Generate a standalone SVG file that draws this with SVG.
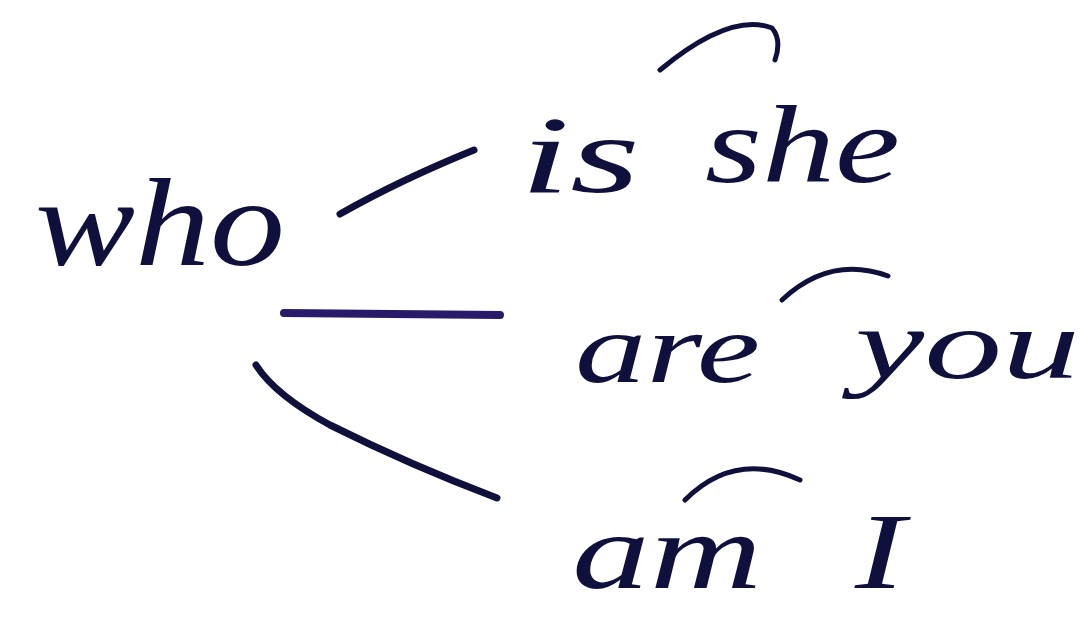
<svg xmlns="http://www.w3.org/2000/svg" width="1086" height="617" viewBox="0 0 1086 617">
<style>
.w{font-family:"Liberation Serif","DejaVu Serif",serif;font-style:italic;fill:#10103c;}
.c{fill:none;stroke:#10103c;stroke-width:7;stroke-linecap:round;}
.arc{fill:none;stroke:#10103c;stroke-width:5;stroke-linecap:round;}
</style>
<rect width="1086" height="617" fill="#ffffff"/>
<g id="node-who"><text class="w" x="35" y="265" font-size="125" textLength="250" lengthAdjust="spacingAndGlyphs">who</text></g>
<g id="node-is-she">
<text class="w" x="520" y="192" font-size="110" textLength="120" lengthAdjust="spacingAndGlyphs">is</text>
<text class="w" x="705" y="182" font-size="110" textLength="195" lengthAdjust="spacingAndGlyphs">she</text>
<path class="arc" d="M660 70 Q730 12 772 28 Q782 40 775 60"/>
</g>
<g id="node-are-you">
<text class="w" x="575" y="382" font-size="100" textLength="185" lengthAdjust="spacingAndGlyphs">are</text>
<text class="w" x="855" y="378" font-size="100" textLength="225" lengthAdjust="spacingAndGlyphs">you</text>
<path class="arc" d="M782 300 Q830 255 888 276"/>
</g>
<g id="node-am-i">
<text class="w" x="572" y="588" font-size="108" textLength="190" lengthAdjust="spacingAndGlyphs">am</text>
<text class="w" x="855" y="588" font-size="108" textLength="50" lengthAdjust="spacingAndGlyphs">I</text>
<path class="arc" d="M685 500 Q735 450 800 480"/>
</g>
<g id="connectors">
<path class="c" d="M340 214 Q400 180 474 150"/>
<path class="c" d="M284 313 L500 315" style="stroke:#2a1a6a;stroke-width:8"/>
<path class="c" d="M256 365 Q275 395 330 425 Q410 465 497 498"/>
</g>
</svg>
